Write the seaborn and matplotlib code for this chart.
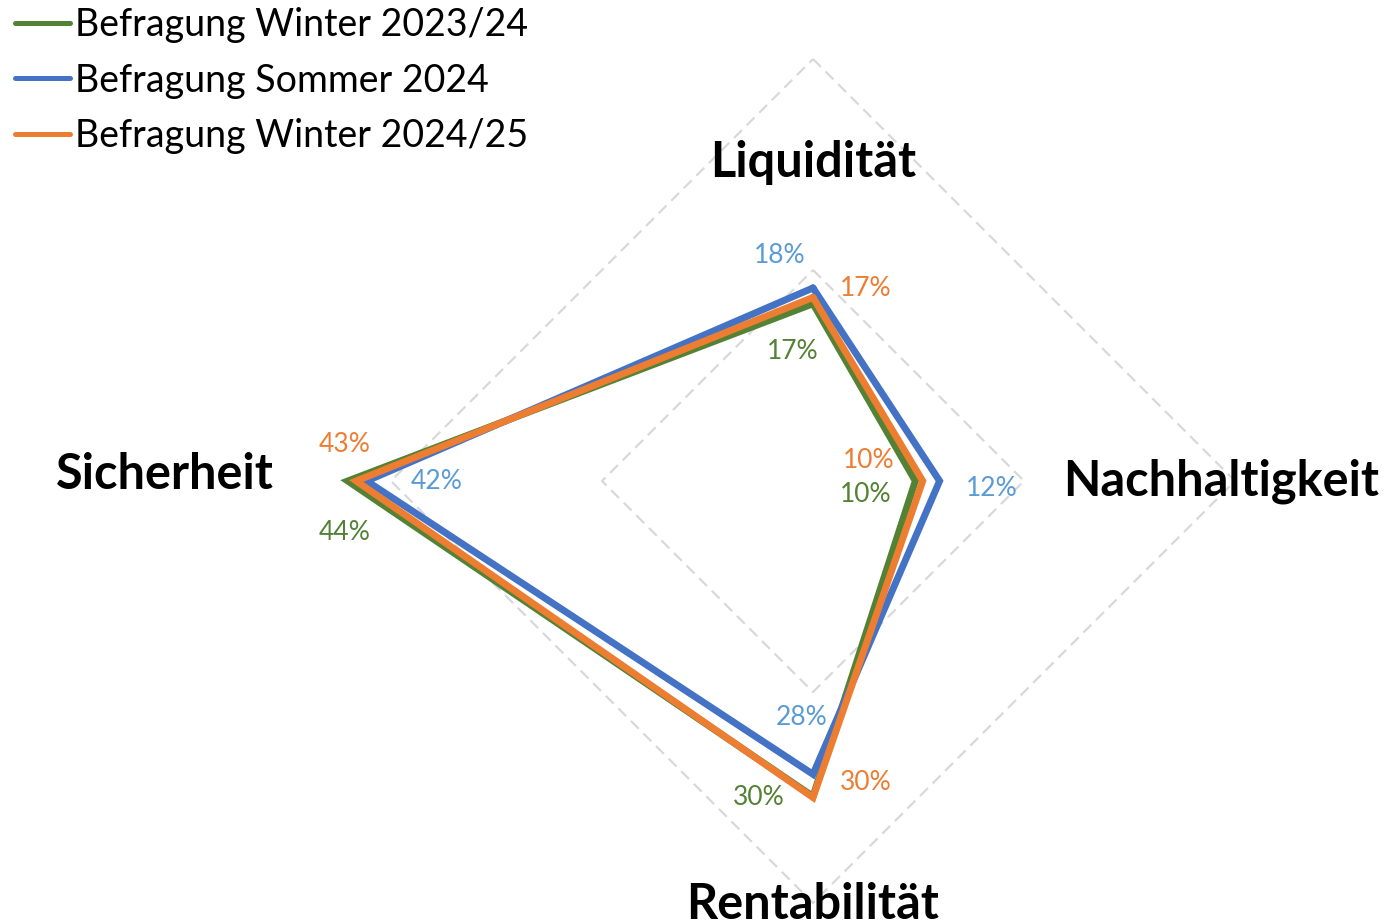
import numpy as np
import pandas as pd
import matplotlib.pyplot as plt
import seaborn as sns
from matplotlib.lines import Line2D

# Kategorien (im Uhrzeigersinn ab oben)
kategorien = ['Liquidität', 'Nachhaltigkeit', 'Rentabilität', 'Sicherheit']

# Werte in Prozent
winter_23_24 = [16.8, 9.7, 29.9, 44.1]
sommer_24 = [18.3, 12.0, 27.8, 42.3]
winter_24_25 = [17.4, 10.4, 30.0, 43.3]

serien = ['Befragung Winter 2023/24', 'Befragung Sommer 2024', 'Befragung Winter 2024/25']
werte = [winter_23_24, sommer_24, winter_24_25]
linien_farben = ['#548235', '#4472C4', '#ED7D31']
label_farben = ['#548235', '#5B9BD5', '#ED7D31']

gitter = [20, 40]

# Versatz der Datenbeschriftungen in Pixeln (je Serie, je Kategorie)
label_versatz = [
    [(-20, -48), (-50, -13), (-54, -1), (-3, -52)],
    [(-33, 32), (52, -7), (-11, 57), (70, 0)],
    [(53, 9), (-54, 21), (53, 15), (-12, 37)],
]
# Radius und Versatz der Kategorienbeschriftungen
kat_radius = [30.6, 38.9, 39.9, 61.7]
kat_versatz = [(0, -4), (-2, 0), (0, -3), (3, 7)]

sns.set_theme(style='white')
plt.rcParams['font.family'] = ['Lato', 'DejaVu Sans']
plt.rcParams['text.color'] = 'black'

winkel = np.linspace(0, 2 * np.pi, len(kategorien), endpoint=False)

zeilen = []
for name, vals in zip(serien, werte):
    for w, v in zip(list(winkel) + [2 * np.pi], vals + [vals[0]]):
        zeilen.append({'serie': name, 'theta': w, 'wert': v})
df = pd.DataFrame(zeilen)

fig = plt.figure(figsize=(13.84, 9.22), dpi=100)
rmax = 50
px_pro_einheit = 10.55
rad_px = rmax * px_pro_einheit
cx, cy = 813, 922 - 481
ax = fig.add_axes([(cx - rad_px) / 1384, (cy - rad_px) / 922,
                   2 * rad_px / 1384, 2 * rad_px / 922], projection='polar')
ax.set_theta_zero_location('N')
ax.set_theta_direction(-1)
ax.set_ylim(0, rmax)
ax.grid(False)
ax.set_xticks([])
ax.set_yticks([])
ax.spines['polar'].set_visible(False)
ax.patch.set_alpha(0)

# Gitternetz als Rauten
for g in gitter:
    ax.plot(list(winkel) + [2 * np.pi], [g] * (len(kategorien) + 1),
            color='#D9D9D9', lw=1.6, ls=(0, (5, 3)), zorder=1)

sns.lineplot(data=df, x='theta', y='wert', hue='serie', palette=linien_farben,
             hue_order=serien, sort=False, estimator=None, lw=5,
             solid_joinstyle='miter', legend=False, ax=ax, zorder=3)
ax.set_xlabel('')
ax.set_ylabel('')

# Datenbeschriftungen
for vals, farbe, versatz in zip(werte, label_farben, label_versatz):
    for w, v, (dx, dy) in zip(winkel, vals, versatz):
        ax.annotate(f'{v:.0f}%', xy=(w, v), xytext=(dx, dy), textcoords='offset pixels',
                    ha='center', va='center', fontsize=19, color=farbe, zorder=4)

# Kategorienbeschriftungen
for w, k, r, (dx, dy) in zip(winkel, kategorien, kat_radius, kat_versatz):
    ax.annotate(k, xy=(w, r), xytext=(dx, dy), textcoords='offset pixels',
                ha='center', va='center', fontsize=35, fontweight='bold',
                color='black', annotation_clip=False, zorder=5)

handles = [Line2D([0], [0], color=c, lw=3.6, solid_capstyle='round') for c in linien_farben]
fig.legend(handles, serien, loc='upper left', bbox_to_anchor=(0.008, 0.996),
           frameon=False, fontsize=27, handlelength=1.47, handletextpad=0.13,
           labelspacing=0.51, borderpad=0.1, borderaxespad=0, labelcolor='black')

fig.savefig('out.png', dpi=100)
